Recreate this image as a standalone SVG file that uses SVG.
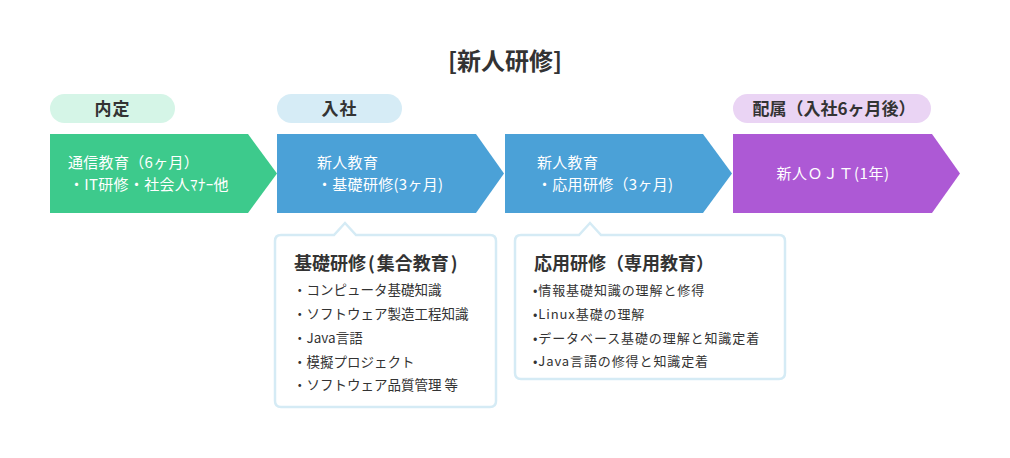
<svg xmlns="http://www.w3.org/2000/svg" width="1010" height="458" viewBox="0 0 1010 458">
<style>
text{font-family:"Noto Sans CJK JP","Noto Sans",sans-serif;}
.title{font-size:24px;font-weight:bold;fill:#333;}
.pill{font-size:17px;font-weight:bold;fill:#333;}
.arr{font-size:15px;fill:#fff;}
.bh{font-size:18px;font-weight:bold;fill:#333;}
.bi{font-size:13.5px;fill:#333;}
.bi2{font-size:13px;fill:#333;letter-spacing:0.9px;}
.callout{fill:#fff;stroke:#d5ebf5;stroke-width:2.5;}
</style>
<rect width="1010" height="458" fill="#fff"/>
<g id="title"><text class="title" x="505" y="70" text-anchor="middle">[新人研修]</text></g>

<g id="pill-naitei"><rect x="50" y="94" width="125" height="29" rx="14.5" fill="#d5f5e7"/><text class="pill" x="112.5" y="115" text-anchor="middle" letter-spacing="1">内定</text></g>
<g id="pill-nyusha"><rect x="277" y="94" width="125" height="29" rx="14.5" fill="#d6ecf6"/><text class="pill" x="339.5" y="115" text-anchor="middle" letter-spacing="1">入社</text></g>
<g id="pill-haizoku"><rect x="733" y="94" width="198" height="29" rx="14.5" fill="#ead4f4"/><text class="pill" x="834" y="115" text-anchor="middle">配属（入社6ヶ月後）</text></g>

<g id="step1"><polygon points="50,134 248,134 277,173.5 248,213 50,213" fill="#3dca8c"/>
<text class="arr" x="68" y="168" letter-spacing="0.3">通信教育（6ヶ月）</text><text class="arr" x="69" y="190" letter-spacing="0.3">・IT研修・社会人ﾏﾅｰ他</text></g>
<g id="step2"><polygon points="277,134 476,134 504,173.5 476,213 277,213" fill="#4ba1d7"/>
<text class="arr" x="317" y="168" letter-spacing="0.3">新人教育</text><text class="arr" x="317" y="190" letter-spacing="0.3">・基礎研修(3ヶ月)</text></g>
<g id="step3"><polygon points="505,134 703,134 732,173.5 703,213 505,213" fill="#4ba1d7"/>
<text class="arr" x="537" y="168" letter-spacing="0.3">新人教育</text><text class="arr" x="537" y="190" letter-spacing="0.3">・応用研修（3ヶ月)</text></g>
<g id="step4"><polygon points="733,134 932,134 960,173.5 932,213 733,213" fill="#ad59d5"/>
<text class="arr" x="833" y="179" text-anchor="middle" letter-spacing="0.5">新人ＯＪＴ(1年)</text></g>

<g id="box-kiso"><path class="callout" d="M281,235 H334 L345,223 L356,235 H490 Q496,235 496,241 V401 Q496,407 490,407 H281 Q275,407 275,401 V241 Q275,235 281,235 Z"/>
<text class="bh" x="294" y="270">基礎研修<tspan dx="2">(</tspan><tspan dx="2">集合教育</tspan><tspan dx="2">)</tspan></text>
<text class="bi" x="293" y="295">・コンピュータ基礎知識</text>
<text class="bi" x="293" y="319">・ソフトウェア製造工程知識</text>
<text class="bi" x="293" y="343">・Java言語</text>
<text class="bi" x="293" y="367">・模擬プロジェクト</text>
<text class="bi" x="293" y="390">・ソフトウェア品質管理 等</text></g>

<g id="box-oyo"><path class="callout" d="M521,235 H579 L590,223 L601,235 H779 Q785,235 785,241 V373 Q785,379 779,379 H521 Q515,379 515,373 V241 Q515,235 521,235 Z"/>
<text class="bh" x="534" y="270">応用研修（専用教育）</text>
<text class="bi2" x="533" y="295">•情報基礎知識の理解と修得</text>
<text class="bi2" x="533" y="319">•Linux基礎の理解</text>
<text class="bi2" x="533" y="343">•データベース基礎の理解と知識定着</text>
<text class="bi2" x="533" y="366">•Java言語の修得と知識定着</text></g>
<g id="connectors"></g>
</svg>
